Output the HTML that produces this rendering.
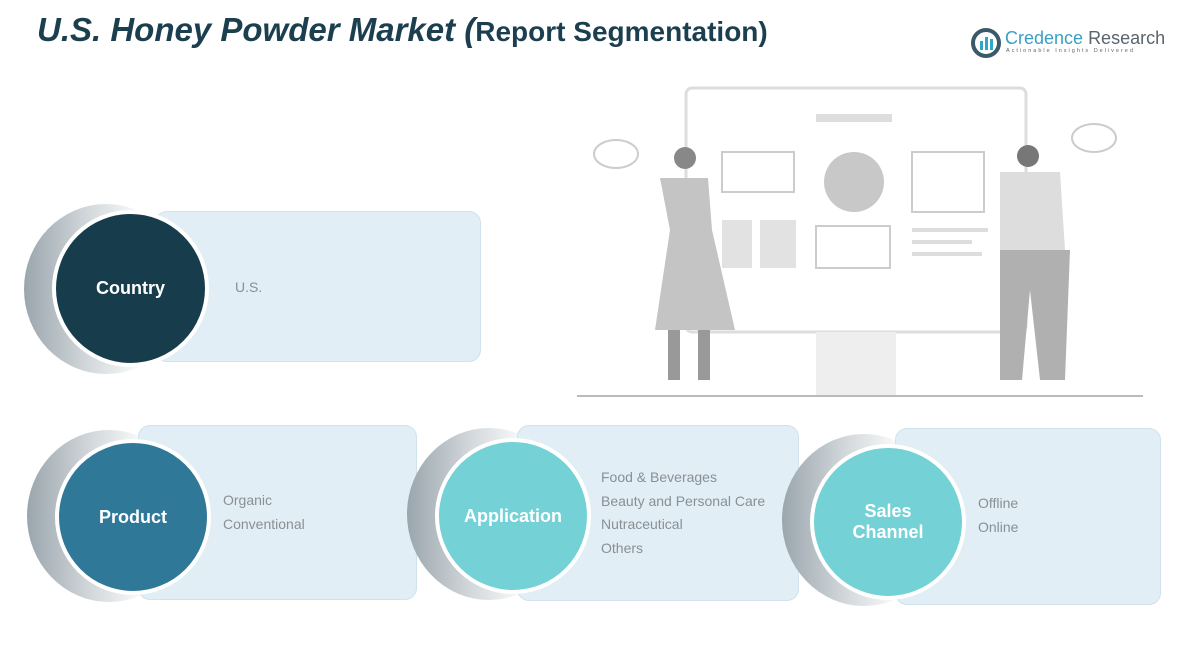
<!DOCTYPE html>
<html><head><style>
body{margin:0;width:1200px;height:653px;background:#fff;position:relative;overflow:hidden;font-family:"Liberation Sans",sans-serif}
.t{position:absolute}
.box{position:absolute;background:#e1eef6;border:1.5px solid #cfe2ee;border-radius:12px}
.cres{position:absolute;border-radius:50%;background:linear-gradient(90deg,#9aa6ad 0%,#d4d9dc 40%,#fff 75%)}
.circ{position:absolute;border-radius:50%;border:4px solid #fff;color:#fff;font-weight:bold;font-size:18px;display:flex;align-items:center;justify-content:center;text-align:center;line-height:21px;box-sizing:border-box}
.items{position:absolute;color:#8a8f93;font-size:14px;line-height:23.5px}
</style></head><body>
<div class="t" style="left:37px;top:11px;font-size:33px;font-weight:bold;font-style:italic;color:#1c3f4f">U.S. Honey Powder Market (<span style="font-style:normal;font-size:28px">Report Segmentation)</span></div>
<svg class="t" style="left:970px;top:27px" width="32" height="32"><circle cx="16" cy="16" r="13" fill="none" stroke="#3a5a6a" stroke-width="4"/><rect x="10" y="14" width="3" height="9" fill="#2fa6c8"/><rect x="15" y="10" width="3" height="13" fill="#2fa6c8"/><rect x="20" y="12" width="3" height="11" fill="#2fa6c8"/></svg>
<div class="t" style="left:1005px;top:28px;font-size:18px;color:#3a9fc4">Credence <span style="color:#59656b">Research</span></div>
<div class="t" style="left:1006px;top:48px;font-size:5.5px;letter-spacing:2px;color:#666">Actionable Insights Delivered</div>

<svg class="t" style="left:560px;top:80px" width="600" height="330">
<rect x="126" y="8" width="340" height="244" rx="6" fill="#fff" stroke="#ddd" stroke-width="3"/>
<rect x="256" y="252" width="80" height="64" fill="#eee"/>
<rect x="256" y="34" width="76" height="8" fill="#ddd"/>
<rect x="162" y="72" width="72" height="40" fill="none" stroke="#ccc" stroke-width="2"/>
<circle cx="294" cy="102" r="30" fill="#c8c8c8"/>
<rect x="352" y="72" width="72" height="60" fill="none" stroke="#ccc" stroke-width="2"/>
<rect x="162" y="140" width="30" height="48" fill="#e2e2e2"/><rect x="200" y="140" width="36" height="48" fill="#e2e2e2"/>
<rect x="256" y="146" width="74" height="42" fill="none" stroke="#ccc" stroke-width="2"/>
<rect x="352" y="148" width="76" height="4" fill="#ddd"/><rect x="352" y="160" width="60" height="4" fill="#ddd"/><rect x="352" y="172" width="70" height="4" fill="#ddd"/>
<ellipse cx="56" cy="74" rx="22" ry="14" fill="none" stroke="#ccc" stroke-width="2"/>
<ellipse cx="534" cy="58" rx="22" ry="14" fill="none" stroke="#ccc" stroke-width="2"/>
<circle cx="125" cy="78" r="11" fill="#888"/>
<path d="M100 98 L148 98 L152 150 L175 250 L95 250 L110 150Z" fill="#c4c4c4"/>
<rect x="108" y="250" width="12" height="50" fill="#999"/><rect x="138" y="250" width="12" height="50" fill="#999"/>
<circle cx="468" cy="76" r="11" fill="#777"/>
<path d="M440 92 L500 92 L505 170 L440 170Z" fill="#ddd"/>
<path d="M440 170 L510 170 L505 300 L480 300 L470 210 L462 300 L440 300Z" fill="#b0b0b0"/>
<line x1="17" y1="316" x2="583" y2="316" stroke="#bbb" stroke-width="2"/>
</svg>

<div class="cres" style="left:24px;top:204px;width:164px;height:170px"></div>
<div class="box" style="left:155px;top:211px;width:324px;height:149px"></div>
<div class="circ" style="left:52px;top:210px;width:157px;height:157px;background:#173d4d">Country</div>
<div class="items" style="left:235px;top:276px">U.S.</div>

<div class="cres" style="left:27px;top:430px;width:164px;height:172px"></div>
<div class="box" style="left:138px;top:425px;width:277px;height:173px"></div>
<div class="circ" style="left:55px;top:439px;width:156px;height:156px;background:#2f7897">Product</div>
<div class="items" style="left:223px;top:489px">Organic<br>Conventional</div>

<div class="cres" style="left:407px;top:428px;width:164px;height:172px"></div>
<div class="box" style="left:517px;top:425px;width:280px;height:174px"></div>
<div class="circ" style="left:435px;top:438px;width:156px;height:156px;background:#74d1d6">Application</div>
<div class="items" style="left:601px;top:466px">Food &amp; Beverages<br>Beauty and Personal Care<br>Nutraceutical<br>Others</div>

<div class="cres" style="left:782px;top:434px;width:164px;height:172px"></div>
<div class="box" style="left:895px;top:428px;width:264px;height:175px"></div>
<div class="circ" style="left:810px;top:444px;width:156px;height:156px;background:#74d1d6">Sales<br>Channel</div>
<div class="items" style="left:978px;top:492px">Offline<br>Online</div>
</body></html>
